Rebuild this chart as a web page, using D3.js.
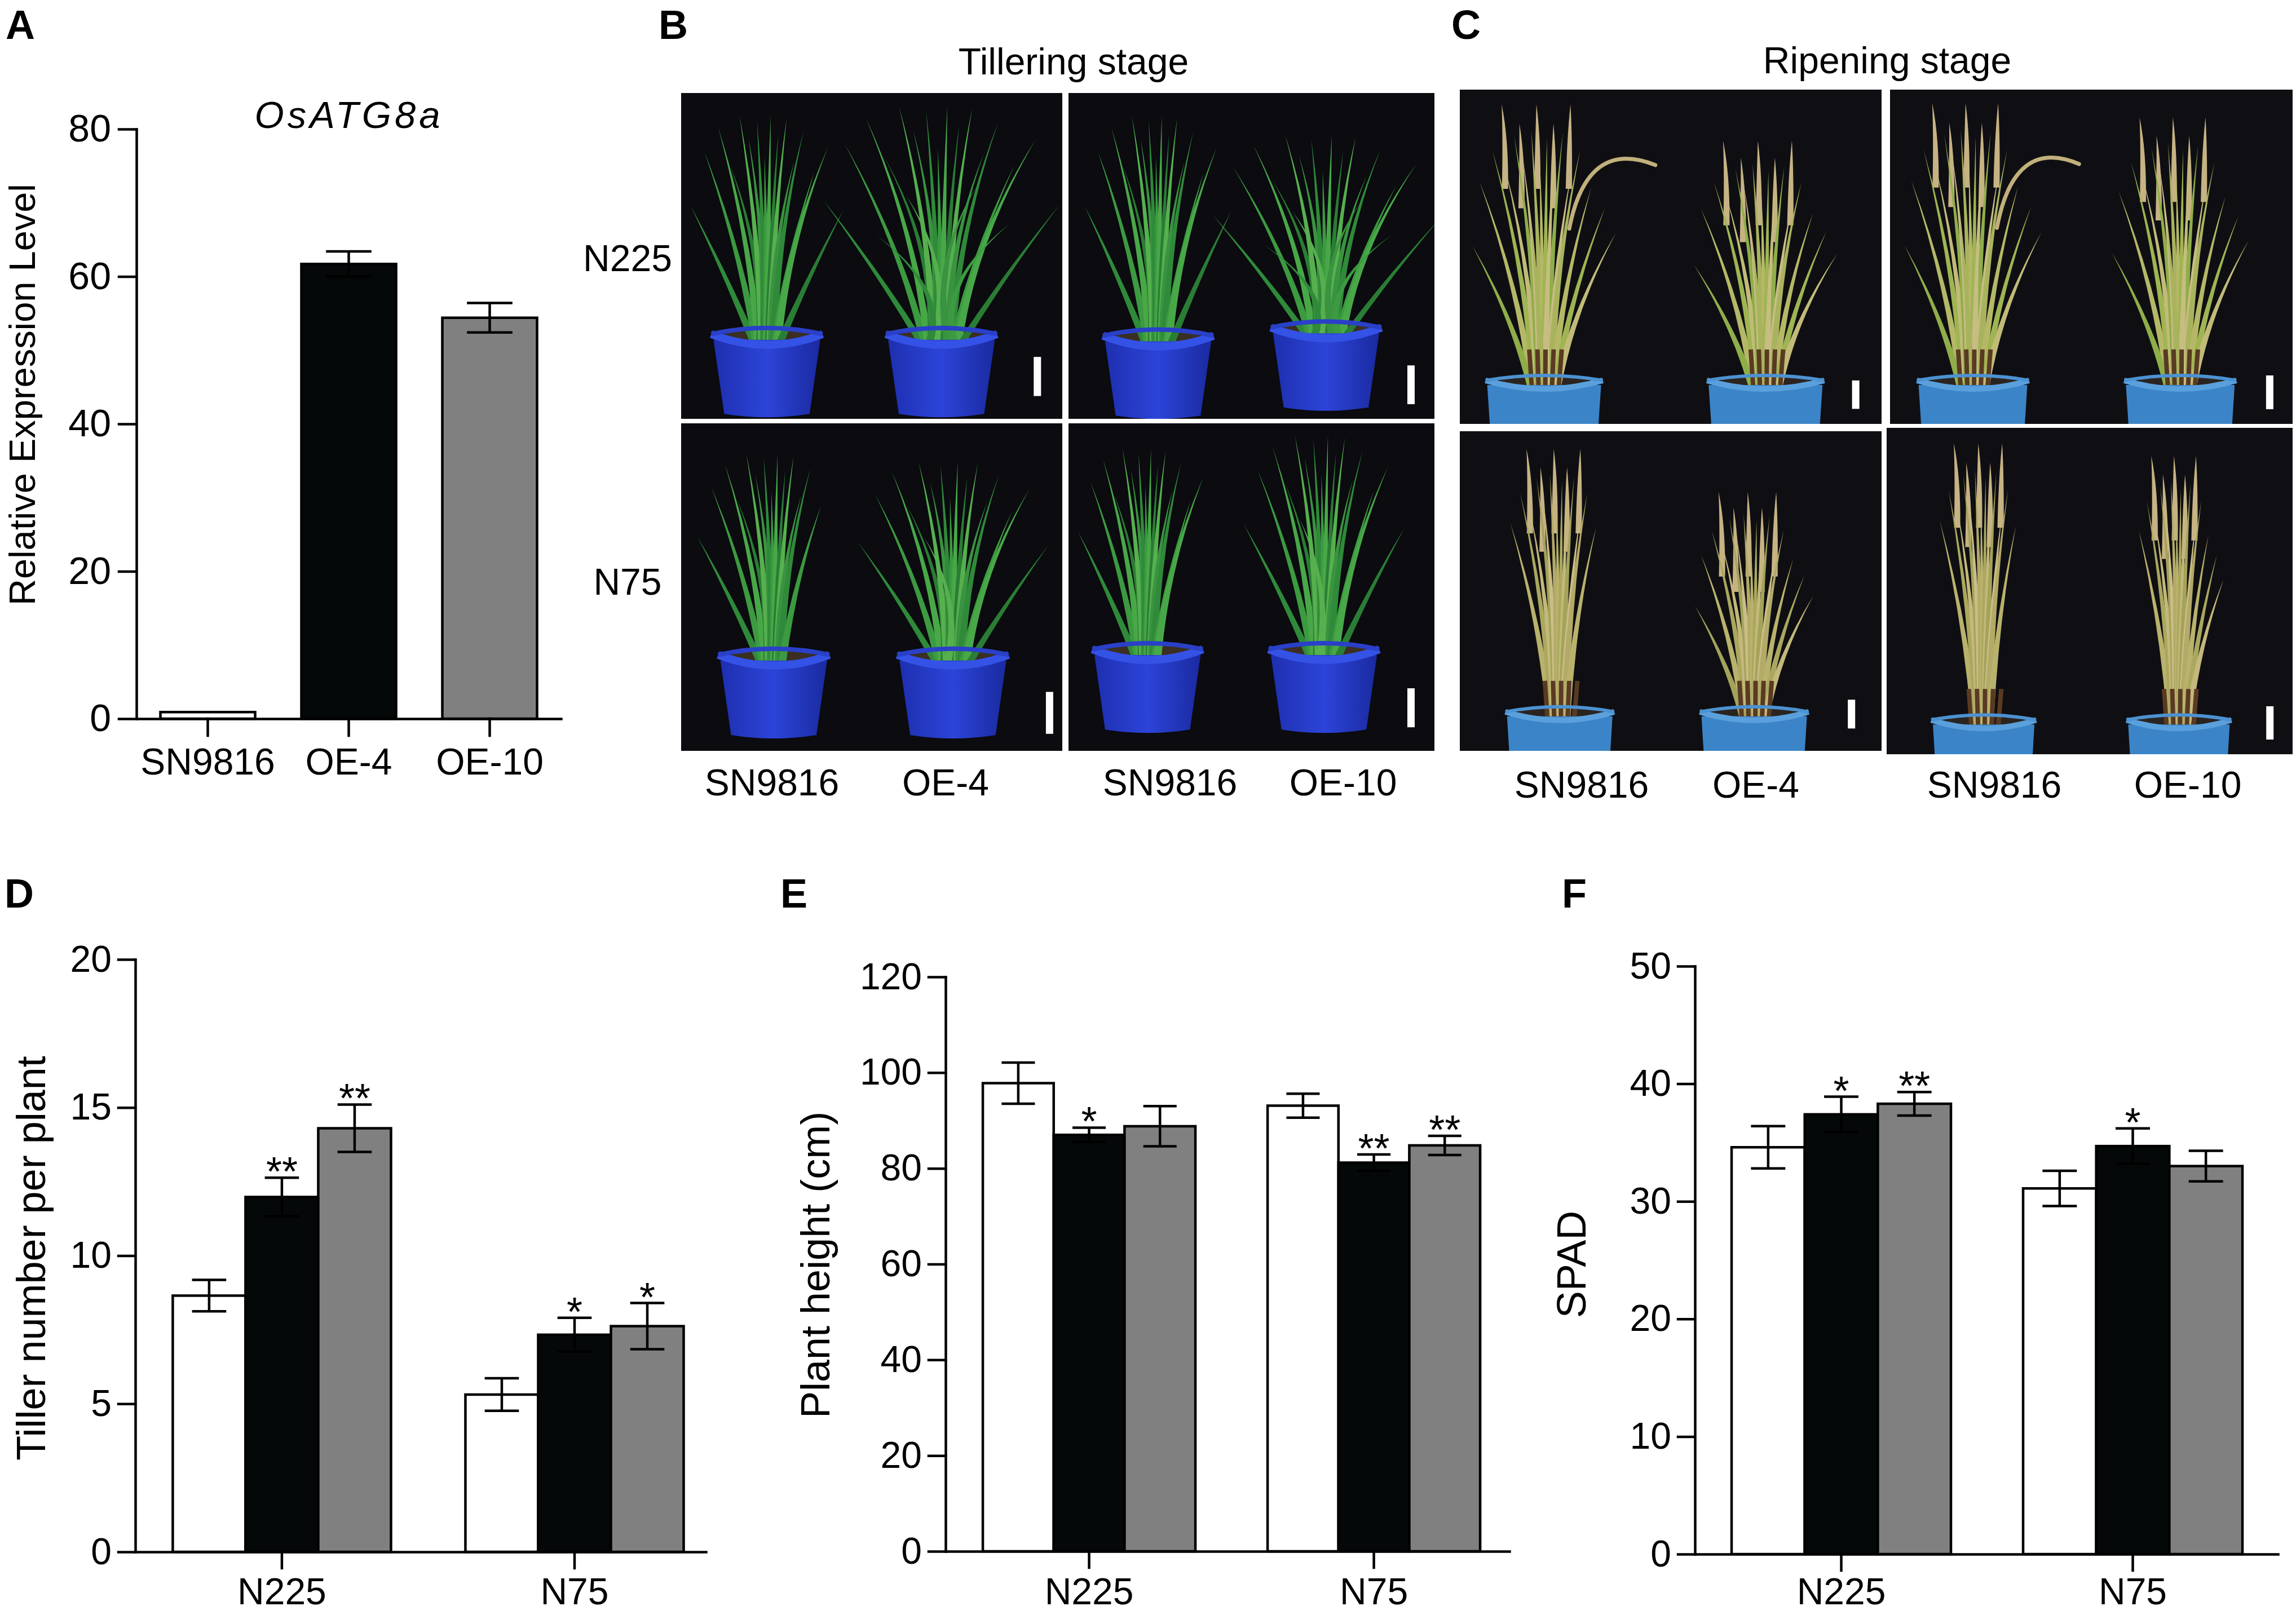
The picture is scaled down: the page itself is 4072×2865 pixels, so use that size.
<!DOCTYPE html>
<html><head><meta charset="utf-8">
<script src="https://cdn.jsdelivr.net/npm/d3@7"></script>
<style>body{margin:0;background:#fff}</style>
</head><body>
<svg id="fig" width="4072" height="2865" xmlns="http://www.w3.org/2000/svg"></svg>
<script>
// ---------------- DATA ----------------
const exprCats = ["SN9816", "OE-4", "OE-10"];
const exprMeans = [0.9, 61.7, 54.4];
const exprSE = [0.1, 1.7, 2.0];
const exprTicks = [0, 20, 40, 60, 80];

const groups = ["N225", "N75"];
const lines = ["SN9816", "OE-4", "OE-10"];
const barFills = ["#ffffff", "#050809", "#808080"];

const tillerMeans = [[8.65, 11.98, 14.3], [5.31, 7.33, 7.62]];
const tillerSE = [[0.53, 0.65, 0.8], [0.55, 0.57, 0.78]];
const tillerStars = [["", "**", "**"], ["", "*", "*"]];
const tillerTicks = [0, 5, 10, 15, 20];

const heightMeans = [[97.8, 87.0, 88.8], [93.1, 81.2, 84.8]];
const heightSE = [[4.3, 1.5, 4.2], [2.5, 1.7, 2.0]];
const heightStars = [["", "*", ""], ["", "**", "**"]];
const heightTicks = [0, 20, 40, 60, 80, 100, 120];

const spadMeans = [[34.6, 37.4, 38.3], [31.1, 34.7, 33.0]];
const spadSE = [[1.8, 1.5, 1.0], [1.5, 1.5, 1.3]];
const spadStars = [["", "*", "**"], ["", "*", ""]];
const spadTicks = [0, 10, 20, 30, 40, 50];

const tilleringCols = ["SN9816", "OE-4", "SN9816", "OE-10"];
const ripeningCols = ["SN9816", "OE-4", "SN9816", "OE-10"];
const rowLabels = ["N225", "N75"];

// ---------------- SETUP ----------------
const FONT = "'Liberation Sans', Arial, Helvetica, sans-serif";
const svg = d3.select('#fig');
svg.append('rect').attr('width', 4072).attr('height', 2865).attr('fill', '#fff');
const LW = 4.5;

function txt(x, y, s, opts = {}) {
  return svg.append('text').attr('x', x).attr('y', y).text(s)
    .attr('font-family', FONT).attr('font-size', opts.size || 66)
    .attr('font-weight', opts.weight || 'normal')
    .attr('font-style', opts.style || 'normal')
    .attr('letter-spacing', opts.ls || 0)
    .attr('text-anchor', opts.anchor || 'middle').attr('fill', '#000');
}

function styleAxis(g, fs) {
  g.attr('font-family', null).attr('font-size', null);
  g.selectAll('text').attr('font-family', FONT).attr('font-size', fs).attr('fill', '#000');
  g.selectAll('line,path').attr('stroke', '#000').attr('stroke-width', LW).attr('stroke-linecap', 'square');
}

function errBar(g, cx, yTop, yBot, capW) {
  g.append('line').attr('x1', cx).attr('x2', cx).attr('y1', yTop).attr('y2', yBot).attr('stroke', '#000').attr('stroke-width', LW);
  [yTop, yBot].forEach(yy => g.append('line').attr('x1', cx - capW / 2).attr('x2', cx + capW / 2)
    .attr('y1', yy).attr('y2', yy).attr('stroke', '#000').attr('stroke-width', LW));
}

// ---------------- PANEL A ----------------
(function () {
  const g = svg.append('g');
  const x = d3.scaleBand().domain(exprCats).range([242, 995]).paddingInner(0.328).paddingOuter(0.17);
  const y = d3.scaleLinear().domain([0, 80]).range([1275, 229]);
  g.selectAll('rect.bar').data(exprCats).join('rect')
    .attr('x', d => x(d)).attr('width', x.bandwidth())
    .attr('y', (d, i) => y(exprMeans[i])).attr('height', (d, i) => y(0) - y(exprMeans[i]))
    .attr('fill', (d, i) => barFills[i]).attr('stroke', '#000').attr('stroke-width', LW);
  exprCats.forEach((d, i) => {
    if (i > 0) errBar(g, x(d) + x.bandwidth() / 2, y(exprMeans[i] + exprSE[i]), y(exprMeans[i] - exprSE[i]), x.bandwidth() * 0.48);
  });
  const ya = g.append('g').attr('transform', 'translate(242,0)')
    .call(d3.axisLeft(y).tickValues(exprTicks).tickSize(31).tickPadding(14).tickSizeOuter(0));
  styleAxis(ya, 68);
  const xa = g.append('g').attr('transform', 'translate(0,1275)')
    .call(d3.axisBottom(x).tickSize(30).tickPadding(22).tickSizeOuter(0));
  styleAxis(xa, 66);
  txt(619, 227, 'OsATG8a', { style: 'italic', size: 67, ls: 6 });
  svg.append('text').attr('transform', 'translate(62,700) rotate(-90)').text('Relative Expression Level')
    .attr('font-family', FONT).attr('font-size', 65).attr('text-anchor', 'middle');
})();

// ---------------- BAR PANELS D/E/F ----------------
const XLAB_BASE = 2846;
function groupedPanel(cfg) {
  const g = svg.append('g');
  const x = d3.scaleBand().domain(groups).range([cfg.x0, cfg.x1]).paddingInner(cfg.pi).paddingOuter(cfg.po).align(cfg.align);
  const xi = d3.scaleBand().domain(lines).range([0, x.bandwidth()]).padding(0);
  const y = d3.scaleLinear().domain([0, cfg.max]).range([cfg.y0, cfg.yTop]);
  groups.forEach((gr, gi) => {
    lines.forEach((ln, li) => {
      const m = cfg.means[gi][li];
      g.append('rect').attr('x', x(gr) + xi(ln)).attr('width', xi.bandwidth())
        .attr('y', y(m)).attr('height', y(0) - y(m))
        .attr('fill', barFills[li]).attr('stroke', '#000').attr('stroke-width', LW);
    });
    lines.forEach((ln, li) => {
      const m = cfg.means[gi][li], se = cfg.se[gi][li];
      const cx = x(gr) + xi(ln) + xi.bandwidth() / 2;
      errBar(g, cx, y(m + se), y(m - se), xi.bandwidth() * 0.47);
      const st = cfg.stars[gi][li];
      if (st) g.append('text').attr('x', cx).attr('y', y(m + se) + 14).text(st)
        .attr('font-family', FONT).attr('font-size', 72).attr('text-anchor', 'middle');
    });
  });
  const ya = g.append('g').attr('transform', `translate(${cfg.x0},0)`)
    .call(d3.axisLeft(y).tickValues(cfg.ticks).tickSize(30).tickPadding(12).tickSizeOuter(0));
  styleAxis(ya, 66);
  const pad = XLAB_BASE - cfg.y0 - 29 - 0.71 * 66;
  const xa = g.append('g').attr('transform', `translate(0,${cfg.y0})`)
    .call(d3.axisBottom(x).tickSize(29).tickPadding(pad).tickSizeOuter(0));
  styleAxis(xa, 66);
  svg.append('text').attr('transform', `translate(${cfg.labX},${cfg.labY}) rotate(-90)`).text(cfg.label)
    .attr('font-family', FONT).attr('font-size', 72).attr('text-anchor', 'middle');
}

groupedPanel({ x0: 240, x1: 1252, pi: 0.2543, po: 0.102, align: 0.627, y0: 2753, yTop: 1702, max: 20,
  means: tillerMeans, se: tillerSE, stars: tillerStars, ticks: tillerTicks,
  label: 'Tiller number per plant', labX: 80, labY: 2232 });
groupedPanel({ x0: 1677, x1: 2677, pi: 0.2535, po: 0.1168, align: 0.56, y0: 2752, yTop: 1733, max: 120,
  means: heightMeans, se: heightSE, stars: heightStars, ticks: heightTicks,
  label: 'Plant height (cm)', labX: 1471, labY: 2244 });
groupedPanel({ x0: 3006, x1: 4040, pi: 0.2476, po: 0.1238, align: 0.508, y0: 2757, yTop: 1714, max: 50,
  means: spadMeans, se: spadSE, stars: spadStars, ticks: spadTicks,
  label: 'SPAD', labX: 2812, labY: 2243 });

// ---------------- PHOTO PANELS (stylised) ----------------
const bladeTemplate = [
  [-1.0, 0.60, -0.25], [-0.82, 0.84, -0.12], [-0.64, 0.95, -0.04], [-0.48, 0.78, 0.08], [-0.36, 1.0, 0.0],
  [-0.24, 0.90, 0.05], [-0.13, 0.98, 0.0], [-0.03, 0.82, 0.0], [0.05, 1.0, 0.0], [0.15, 0.92, 0.0],
  [0.26, 0.99, 0.0], [0.36, 0.80, -0.05], [0.48, 0.93, 0.0], [0.62, 0.75, 0.08], [0.8, 0.86, 0.04],
  [1.0, 0.58, 0.25], [-0.3, 0.62, 0.18], [0.3, 0.66, -0.18], [-0.55, 0.45, 0.2], [0.58, 0.5, -0.2]
];
// upright template for ripening plants
const uprightTemplate = [
  [-0.9, 0.80, -0.1], [-0.72, 0.92, -0.05], [-0.55, 0.86, 0.0], [-0.42, 0.98, 0.0], [-0.3, 0.90, 0.0],
  [-0.18, 1.0, 0.0], [-0.06, 0.88, 0.0], [0.04, 0.97, 0.0], [0.14, 0.93, 0.0], [0.26, 0.99, 0.0],
  [0.38, 0.84, 0.0], [0.5, 0.92, 0.0], [0.66, 0.78, 0.05], [0.85, 0.70, 0.1], [1.0, 0.60, 0.1],
  [-1.0, 0.55, -0.15], [0.1, 0.7, 0.0], [-0.2, 0.66, 0.0]
];
const greenShades = ['#2f8a3a', '#3c9a40', '#48a848', '#2a7d34', '#56b04e', '#3a9340'];
const strawTop = ['#b5b866', '#9fb552', '#c2bb78', '#8fae4a', '#c7bd82', '#a9b35e'];
const strawLow = ['#b9b26c', '#aaa85e', '#c4b87a', '#a3a35a', '#cbbd86', '#b2aa66'];

const tillerPhotos = [
  { x: 1208, y: 165, w: 676, h: 578 }, { x: 1895, y: 165, w: 649, h: 578 },
  { x: 1208, y: 751, w: 676, h: 581 }, { x: 1895, y: 751, w: 649, h: 581 }];
const tillerPlants = [
  [[0.225, 0.74, 0.07, 0.2, 0.28, 16], [0.683, 0.74, 0.04, 0.31, 0.28, 20]],
  [[0.245, 0.745, 0.07, 0.2, 0.29, 16], [0.704, 0.72, 0.13, 0.31, 0.29, 20]],
  [[0.243, 0.707, 0.093, 0.2, 0.28, 14], [0.713, 0.707, 0.117, 0.25, 0.28, 17]],
  [[0.216, 0.69, 0.077, 0.19, 0.29, 15], [0.698, 0.69, 0.036, 0.22, 0.29, 17]]];
const tillerBars = [[0.925, 0.81, 0.93], [0.926, 0.836, 0.955], [0.957, 0.82, 0.948], [0.926, 0.809, 0.928]];

const ripenPhotos = [
  { x: 2589, y: 159, w: 748, h: 593 }, { x: 3352, y: 159, w: 714, h: 593 },
  { x: 2589, y: 765, w: 748, h: 567 }, { x: 3346, y: 759, w: 720, h: 579 }];
const ripenPlants = [
  [[0.2, 0.87, 0.044, 0.17, 0.27, 18], [0.725, 0.87, 0.153, 0.17, 0.27, 18]],
  [[0.206, 0.87, 0.04, 0.17, 0.27, 18], [0.721, 0.87, 0.083, 0.17, 0.27, 18]],
  [[0.237, 0.878, 0.055, 0.13, 0.25, 13], [0.698, 0.878, 0.19, 0.14, 0.25, 16]],
  [[0.239, 0.895, 0.047, 0.12, 0.25, 13], [0.72, 0.895, 0.086, 0.11, 0.25, 15]]];
const ripenBars = [[0.93, 0.87, 0.955], [0.934, 0.855, 0.956], [0.92, 0.84, 0.93], [0.935, 0.853, 0.955]];
const paniclePos = [-0.55, -0.32, -0.1, 0.12, 0.34];

const defs = svg.append('defs');
const potGrad = defs.append('linearGradient').attr('id', 'potg').attr('x1', 0).attr('x2', 1);
potGrad.append('stop').attr('offset', '0').attr('stop-color', '#1e2fb0');
potGrad.append('stop').attr('offset', '0.5').attr('stop-color', '#2c44d8');
potGrad.append('stop').attr('offset', '1').attr('stop-color', '#1a2aa0');

function drawPlant(g, tmpl, bx, by, H, S, palette, n, blade) {
  tmpl.slice(0, n).forEach((b, i) => {
    const tx = bx + b[0] * S, ty = by - b[1] * H;
    const cx = bx + b[0] * S * 0.3 + b[2] * S, cy = by - b[1] * H * 0.5;
    const bx0 = bx + b[0] * S * 0.18;
    g.append('path')
      .attr('d', `M${bx0 - blade},${by} Q${cx - blade * 0.6},${cy} ${tx},${ty} Q${cx + blade * 0.6},${cy} ${bx0 + blade},${by} Z`)
      .attr('fill', palette[i % palette.length]);
  });
}

function photoFrame(p, bg, id) {
  const cp = defs.append('clipPath').attr('id', id);
  cp.append('rect').attr('x', p.x).attr('y', p.y).attr('width', p.w).attr('height', p.h);
  const g = svg.append('g').attr('clip-path', `url(#${id})`);
  g.append('rect').attr('x', p.x).attr('y', p.y).attr('width', p.w).attr('height', p.h).attr('fill', bg);
  return g;
}

tillerPhotos.forEach((p, pi) => {
  const g = photoFrame(p, '#0b0b10', 'tp' + pi);
  tillerPlants[pi].forEach(pl => {
    const cx = p.x + pl[0] * p.w, top = p.y + pl[1] * p.h, pw = pl[4] * p.w;
    const H = top - (p.y + pl[2] * p.h);
    g.append('ellipse').attr('cx', cx).attr('cy', top + 8).attr('rx', pw / 2 - 6).attr('ry', 16).attr('fill', '#3a2f22');
    drawPlant(g, bladeTemplate, cx, top + 12, H + 12, pl[3] * p.w, greenShades, pl[5], 7);
    const ph = 0.245 * p.h;
    g.append('path').attr('d', `M${cx - pw / 2},${top + 10} L${cx + pw / 2},${top + 10} L${cx + pw * 0.4},${top + ph} Q${cx},${top + ph + 12} ${cx - pw * 0.4},${top + ph} Z`)
      .attr('fill', 'url(#potg)');
    g.append('path').attr('d', `M${cx - pw / 2 - 4},${top} Q${cx},${top + 38} ${cx + pw / 2 + 4},${top}`)
      .attr('fill', 'none').attr('stroke', '#3552e6').attr('stroke-width', 14);
    g.append('path').attr('d', `M${cx - pw / 2 - 4},${top} Q${cx},${top - 22} ${cx + pw / 2 + 4},${top}`)
      .attr('fill', 'none').attr('stroke', '#2a40c8').attr('stroke-width', 8);
  });
  const sb = tillerBars[pi];
  g.append('rect').attr('x', p.x + sb[0] * p.w).attr('y', p.y + sb[1] * p.h).attr('width', 13)
    .attr('height', (sb[2] - sb[1]) * p.h).attr('fill', '#fff');
});

ripenPhotos.forEach((p, pi) => {
  const g = photoFrame(p, '#0f0f13', 'rp' + pi);
  ripenPlants[pi].forEach((pl, k) => {
    const cx = p.x + pl[0] * p.w, top = p.y + pl[1] * p.h, pw = pl[4] * p.w;
    const H = top - (p.y + pl[2] * p.h);
    const S = pl[3] * p.w;
    const pal = pi < 2 ? strawTop : strawLow;
    // soil
    g.append('ellipse').attr('cx', cx).attr('cy', top + 10).attr('rx', pw / 2 - 6).attr('ry', 18).attr('fill', '#2a2420');
    // panicles (behind leaves)
    paniclePos.forEach((d, j) => {
      const tx = cx + d * S, ty = top - H * (1.0 - (j % 2) * 0.07);
      g.append('path').attr('d', `M${tx - 5},${ty + 150} Q${tx - 3},${ty + 60} ${tx + d * 10},${ty} Q${tx + 7},${ty + 60} ${tx + 6},${ty + 150} Z`)
        .attr('fill', '#c6b283');
    });
    drawPlant(g, uprightTemplate, cx, top + 12, H * 0.93, S, pal, pl[5], 7);
    // drooping panicle
    if (pi < 2 && k === 0) {
      g.append('path').attr('d', `M${cx + S * 0.35},${top - H * 0.55} Q${cx + S * 0.6},${top - H * 0.88} ${cx + S * 1.55},${top - H * 0.78}`)
        .attr('fill', 'none').attr('stroke', '#c2b07c').attr('stroke-width', 7).attr('stroke-linecap', 'round');
    }
    // dark stem bases
    [-22, -10, 2, 14, 26].forEach(dx => g.append('line').attr('x1', cx + dx).attr('x2', cx + dx * 1.2)
      .attr('y1', top + 10).attr('y2', top - 55).attr('stroke', '#5a3a22').attr('stroke-width', 8));
    // pot
    g.append('path').attr('d', `M${cx - pw / 2},${top + 8} L${cx + pw / 2},${top + 8} L${cx + pw * 0.45},${top + 160} L${cx - pw * 0.45},${top + 160} Z`)
      .attr('fill', '#3c84c8');
    g.append('path').attr('d', `M${cx - pw / 2 - 3},${top} Q${cx},${top + 30} ${cx + pw / 2 + 3},${top}`)
      .attr('fill', 'none').attr('stroke', '#5aa0dc').attr('stroke-width', 10);
    g.append('path').attr('d', `M${cx - pw / 2 - 3},${top} Q${cx},${top - 18} ${cx + pw / 2 + 3},${top}`)
      .attr('fill', 'none').attr('stroke', '#4c92d2').attr('stroke-width', 6);
  });
  const sb = ripenBars[pi];
  g.append('rect').attr('x', p.x + sb[0] * p.w).attr('y', p.y + sb[1] * p.h).attr('width', 13)
    .attr('height', (sb[2] - sb[1]) * p.h).attr('fill', '#fff');
});

// ---------------- TEXT LABELS ----------------
txt(1904, 132, 'Tillering stage');
txt(3347, 130, 'Ripening stage');
txt(1113, 481, rowLabels[0]);
txt(1113, 1055, rowLabels[1]);
[1369, 1677, 2075, 2382].forEach((cx, i) => txt(cx, 1411, tilleringCols[i]));
[2805, 3114, 3537, 3880].forEach((cx, i) => txt(cx, 1415, ripeningCols[i]));

[['A', 10, 69], ['B', 1168, 69], ['C', 2574, 69], ['D', 8, 1610], ['E', 1384, 1610], ['F', 2770, 1610]]
  .forEach(l => txt(l[1], l[2], l[0], { weight: 'bold', size: 72, anchor: 'start' }));
</script>
</body></html>
